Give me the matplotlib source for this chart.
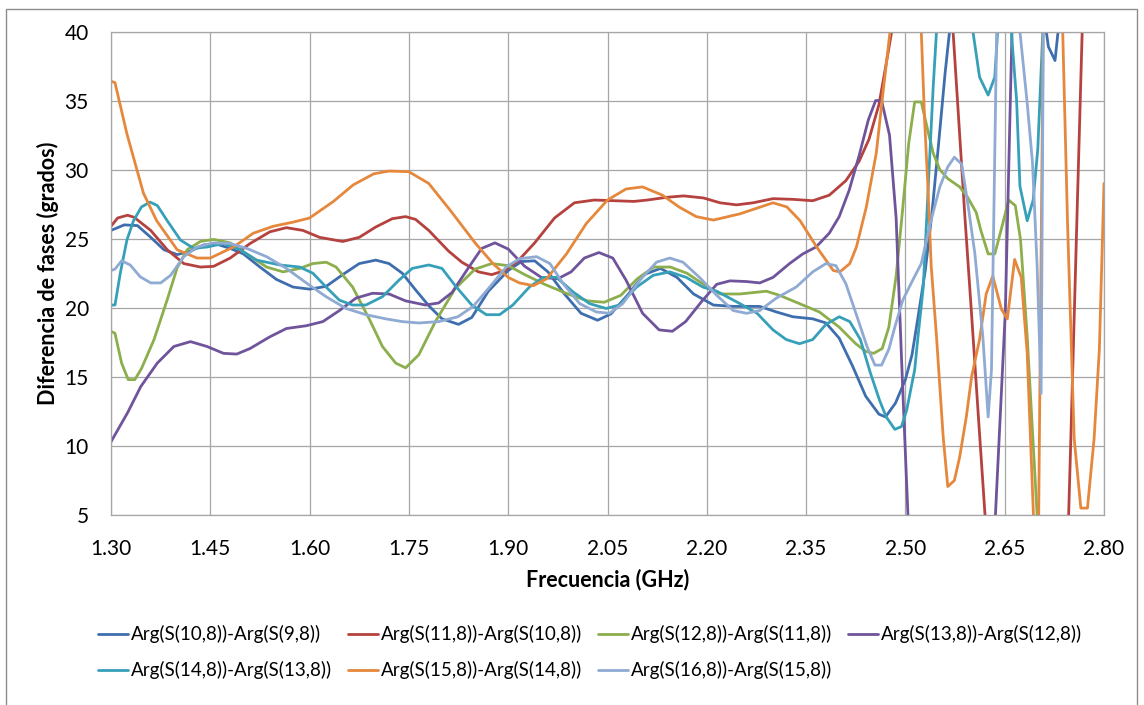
import matplotlib
matplotlib.use("Agg")
import matplotlib.pyplot as plt
from matplotlib.patches import Rectangle

plt.rcParams['font.family'] = ['Lato', 'DejaVu Sans']

LABELS = ["Arg(S(10,8))-Arg(S(9,8))", "Arg(S(11,8))-Arg(S(10,8))", "Arg(S(12,8))-Arg(S(11,8))",
          "Arg(S(13,8))-Arg(S(12,8))", "Arg(S(14,8))-Arg(S(13,8))", "Arg(S(15,8))-Arg(S(14,8))",
          "Arg(S(16,8))-Arg(S(15,8))"]
COLORS = ["#3F6EAE", "#B5423F", "#8CAE4C", "#6F549B", "#37A0B9", "#E6883C", "#8FAAD3"]
XTICKS = [1.30, 1.45, 1.60, 1.75, 1.90, 2.05, 2.20, 2.35, 2.50, 2.65, 2.80]
YTICKS = [5, 10, 15, 20, 25, 30, 35, 40]

# frequency (GHz) / phase difference (deg); values beyond 5..40 are off-chart
f_10_9 = [1.30, 1.32, 1.34, 1.36, 1.38, 1.40, 1.42, 1.44, 1.46, 1.48, 1.50, 1.525, 1.55, 1.575, 1.60,
          1.625, 1.65, 1.675, 1.70, 1.72, 1.74, 1.76, 1.78, 1.80, 1.825, 1.845, 1.87, 1.90, 1.92, 1.94,
          1.96, 1.985, 2.01, 2.035, 2.055, 2.08, 2.105, 2.13, 2.155, 2.18, 2.21, 2.24, 2.28, 2.305, 2.33,
          2.36, 2.38, 2.40, 2.42, 2.44, 2.46, 2.47, 2.485, 2.50, 2.51, 2.52, 2.53, 2.54, 2.55, 2.56, 2.57,
          2.60, 2.70, 2.71, 2.716, 2.726, 2.735, 2.80]
d_10_9 = [25.6, 26.0, 25.95, 25.1, 24.2, 23.85, 24.1, 24.55, 24.6, 24.3, 23.9, 22.95, 22.05, 21.5, 21.35,
          21.55, 22.4, 23.2, 23.45, 23.2, 22.5, 21.3, 20.15, 19.2, 18.8, 19.3, 21.2, 22.7, 23.35, 23.4,
          22.6, 21.0, 19.6, 19.1, 19.55, 20.9, 22.4, 22.85, 22.2, 21.0, 20.2, 20.1, 20.1, 19.7, 19.35,
          19.2, 18.9, 17.8, 15.8, 13.6, 12.3, 12.1, 13.1, 14.8, 16.6, 19.6, 22.7, 26.8, 31.8, 37.0, 41.5,
          46, 46, 41, 38.9, 37.9, 42, 46]

f_11_10 = [1.30, 1.31, 1.325, 1.335, 1.36, 1.385, 1.41, 1.435, 1.455, 1.48, 1.51, 1.54, 1.565, 1.59,
           1.615, 1.65, 1.675, 1.70, 1.725, 1.745, 1.76, 1.78, 1.81, 1.83, 1.855, 1.875, 1.895, 1.915,
           1.94, 1.97, 2.00, 2.03, 2.06, 2.09, 2.11, 2.14, 2.165, 2.195, 2.22, 2.245, 2.27, 2.30, 2.33,
           2.36, 2.385, 2.41, 2.43, 2.445, 2.46, 2.47, 2.48, 2.50, 2.56, 2.57, 2.58, 2.59, 2.60, 2.61,
           2.62, 2.63, 2.74, 2.75, 2.76, 2.77, 2.80]
d_11_10 = [25.9, 26.5, 26.7, 26.55, 25.6, 24.2, 23.2, 22.95, 23.0, 23.6, 24.65, 25.5, 25.8, 25.6,
           25.1, 24.8, 25.1, 25.85, 26.45, 26.6, 26.4, 25.6, 24.1, 23.3, 22.6, 22.4, 22.7, 23.4,
           24.7, 26.5, 27.6, 27.8, 27.75, 27.7, 27.8, 28.0, 28.1, 27.95, 27.6, 27.45, 27.6, 27.9, 27.85,
           27.75, 28.15, 29.2, 30.6, 32.2, 34.7, 37.4, 40.2, 45, 45, 41.5, 34.0, 26.5, 19.5, 12.3,
           5.2, -2, -6, 10.7, 28.0, 45, 46]

f_12_11 = [1.30, 1.306, 1.316, 1.326, 1.336, 1.346, 1.365, 1.385, 1.40, 1.415, 1.435, 1.455, 1.48, 1.505,
           1.535, 1.56, 1.585, 1.605, 1.625, 1.64, 1.665, 1.69, 1.71, 1.73, 1.745, 1.765, 1.79, 1.82,
           1.85, 1.875, 1.90, 1.925, 1.955, 1.99, 2.02, 2.045, 2.07, 2.095, 2.12, 2.145, 2.17, 2.195,
           2.22, 2.25, 2.29, 2.31, 2.34, 2.37, 2.40, 2.425, 2.44, 2.452, 2.465, 2.475, 2.486, 2.496,
           2.505, 2.514, 2.524, 2.534, 2.542, 2.552, 2.564, 2.582, 2.594, 2.607, 2.614, 2.625, 2.635,
           2.646, 2.656, 2.666, 2.674, 2.684, 2.691, 2.699, 2.71, 2.80]
d_12_11 = [18.3, 18.15, 16.0, 14.8, 14.8, 15.6, 17.7, 20.6, 22.9, 24.2, 24.8, 24.95, 24.7, 23.9,
           22.95, 22.6, 22.85, 23.2, 23.3, 22.95, 21.5, 19.2, 17.2, 16.0, 15.65, 16.6, 19.0, 21.4,
           22.8, 23.2, 23.05, 22.4, 21.7, 21.0, 20.5, 20.4, 20.9, 22.1, 22.95, 22.95, 22.5, 21.7,
           21.0, 21.0, 21.2, 20.9, 20.3, 19.7, 18.6, 17.4, 16.85, 16.7, 17.05, 18.6, 22.3, 27.2,
           31.9, 34.9, 34.9, 32.8, 31.2, 30.0, 29.35, 28.75, 28.0, 26.9, 25.6, 23.9, 23.9,
           25.9, 27.8, 27.4, 24.9, 17.9, 11.9, 5.0, -2, -2]

f_13_12 = [1.30, 1.325, 1.345, 1.37, 1.395, 1.42, 1.445, 1.47, 1.49, 1.51, 1.54, 1.565, 1.595, 1.62,
           1.645, 1.67, 1.695, 1.72, 1.745, 1.775, 1.795, 1.815, 1.84, 1.86, 1.88, 1.90, 1.925, 1.95,
           1.975, 1.995, 2.015, 2.037, 2.058, 2.078, 2.103, 2.128, 2.148, 2.168, 2.193, 2.215, 2.235,
           2.26, 2.28, 2.30, 2.325, 2.345, 2.365, 2.385, 2.40, 2.415, 2.43, 2.444, 2.455, 2.464, 2.476,
           2.486, 2.494, 2.502, 2.51, 2.625, 2.636, 2.651, 2.661, 2.67, 2.80]
d_13_12 = [10.3, 12.4, 14.3, 16.0, 17.2, 17.55, 17.2, 16.7, 16.65, 17.05, 17.9, 18.5, 18.7, 19.0,
           19.8, 20.7, 21.05, 21.0, 20.5, 20.2, 20.35, 21.1, 22.9, 24.3, 24.7, 24.25, 23.0, 22.2,
           22.1, 22.6, 23.6, 24.0, 23.6, 22.0, 19.6, 18.4, 18.3, 19.0, 20.5, 21.7, 21.95,
           21.9, 21.8, 22.2, 23.2, 23.9, 24.4, 25.4, 26.6, 28.5, 31.0, 33.6, 35.0, 35.0, 32.5,
           26.5, 16.5, 7.1, -2, -8, 5.0, 19.8, 40.0, 46, 46]

f_14_13 = [1.30, 1.306, 1.314, 1.324, 1.334, 1.346, 1.359, 1.37, 1.385, 1.405, 1.425, 1.445, 1.47, 1.495,
           1.52, 1.555, 1.585, 1.605, 1.625, 1.645, 1.665, 1.685, 1.71, 1.735, 1.755, 1.78, 1.80, 1.82,
           1.845, 1.867, 1.887, 1.907, 1.932, 1.953, 1.973, 1.998, 2.023, 2.048, 2.068, 2.094, 2.119,
           2.144, 2.169, 2.194, 2.215, 2.25, 2.276, 2.30, 2.32, 2.34, 2.36, 2.38, 2.40, 2.416, 2.432,
           2.447, 2.461, 2.471, 2.484, 2.494, 2.502, 2.509, 2.514, 2.519, 2.527, 2.532, 2.537, 2.542,
           2.547, 2.555, 2.595, 2.602, 2.612, 2.625, 2.635, 2.64, 2.65, 2.66, 2.668, 2.673, 2.684,
           2.693, 2.70, 2.708, 2.72, 2.80]
d_14_13 = [20.2, 20.2, 22.5, 24.9, 26.3, 27.3, 27.65, 27.4, 26.3, 24.9, 24.3, 24.4, 24.65, 24.2,
           23.45, 23.1, 22.95, 22.5, 21.5, 20.55, 20.2, 20.2, 20.8, 22.0, 22.85, 23.1, 22.85, 21.6,
           20.2, 19.5, 19.5, 20.2, 21.5, 22.2, 22.2, 21.15, 20.3, 19.95, 20.2, 21.5, 22.35,
           22.6, 22.2, 21.5, 21.2, 20.3, 19.6, 18.4, 17.7, 17.4, 17.7, 18.8, 19.35, 19.0, 17.7,
           15.3, 13.3, 12.1, 11.2, 11.4, 12.6, 14.3, 15.5, 17.9, 21.5, 26.3, 31.2, 36.0,
           40.0, 46, 46, 40.0, 36.7, 35.4, 36.7, 40.5, 46, 40.0, 35.0, 28.8, 26.3,
           27.8, 31.5, 40.5, 46, 46]

f_15_14 = [1.30, 1.306, 1.324, 1.349, 1.369, 1.40, 1.43, 1.45, 1.485, 1.515, 1.545, 1.575, 1.60, 1.636,
           1.666, 1.697, 1.72, 1.75, 1.78, 1.815, 1.85, 1.877, 1.90, 1.917, 1.938, 1.958, 1.988, 2.018,
           2.05, 2.078, 2.103, 2.133, 2.158, 2.184, 2.21, 2.25, 2.30, 2.321, 2.341, 2.366, 2.391, 2.401,
           2.416, 2.426, 2.441, 2.456, 2.466, 2.478, 2.49, 2.515, 2.524, 2.529, 2.534, 2.539, 2.547,
           2.552, 2.557, 2.564, 2.574, 2.582, 2.592, 2.60, 2.612, 2.622, 2.632, 2.645, 2.654, 2.665,
           2.675, 2.684, 2.693, 2.70, 2.71, 2.735, 2.745, 2.755, 2.765, 2.775, 2.785, 2.793, 2.80]
d_15_14 = [36.4, 36.3, 32.6, 28.3, 26.3, 24.2, 23.6, 23.6, 24.4, 25.4, 25.9, 26.2, 26.5, 27.7,
           28.9, 29.7, 29.9, 29.85, 29.0, 26.9, 24.7, 23.2, 22.2, 21.8, 21.6, 22.1, 23.9, 26.1,
           27.8, 28.6, 28.75, 28.15, 27.3, 26.6, 26.35, 26.8, 27.6, 27.3, 26.3, 24.4, 22.7, 22.6,
           23.2, 24.4, 27.3, 31.2, 35.5, 40.5, 46, 46, 40.0, 33.6, 28.75, 23.0, 17.9,
           14.3, 10.7, 7.06, 7.5, 9.2, 12.1, 15.0, 17.7, 21.0, 22.3, 19.9, 19.2, 23.5,
           22.2, 16.7, 5.5, -2, 50, 45, 26.0, 10.5, 5.5, 5.5, 10.5, 17.0, 29.0]

f_16_15 = [1.30, 1.306, 1.316, 1.329, 1.344, 1.36, 1.375, 1.39, 1.41, 1.43, 1.455, 1.48, 1.505, 1.535,
           1.565, 1.595, 1.625, 1.655, 1.685, 1.715, 1.74, 1.765, 1.795, 1.824, 1.847, 1.872, 1.897,
           1.917, 1.943, 1.963, 1.983, 2.008, 2.033, 2.053, 2.073, 2.099, 2.124, 2.144, 2.164, 2.189,
           2.215, 2.24, 2.26, 2.28, 2.305, 2.335, 2.36, 2.38, 2.395, 2.41, 2.427, 2.442, 2.454, 2.464,
           2.475, 2.484, 2.496, 2.51, 2.524, 2.537, 2.552, 2.564, 2.574, 2.585, 2.595, 2.605, 2.617,
           2.625, 2.63, 2.638, 2.645, 2.665, 2.673, 2.684, 2.692, 2.699, 2.705, 2.709, 2.80]
d_16_15 = [22.7, 22.8, 23.4, 23.1, 22.25, 21.8, 21.8, 22.35, 23.7, 24.4, 24.7, 24.65, 24.3, 23.7,
           22.85, 21.8, 20.8, 19.95, 19.5, 19.2, 19.0, 18.9, 19.0, 19.35, 20.1, 21.5, 22.95,
           23.55, 23.7, 23.2, 21.75, 20.3, 19.7, 19.6, 20.3, 22.0, 23.3, 23.6, 23.3, 22.2,
           20.9, 19.8, 19.6, 19.8, 20.7, 21.5, 22.6, 23.2, 23.05, 21.75, 19.35, 17.2, 15.85, 15.85,
           17.0, 18.6, 20.55, 21.9, 23.2, 26.0, 28.75, 30.2, 30.9, 30.4, 27.3, 23.9, 17.9,
           12.1, 15.5, 40.5, 46, 46, 40.0, 34.8, 30.5, 23.0, 13.8, 45, 48]

SERIES = [(f_10_9, d_10_9), (f_11_10, d_11_10), (f_12_11, d_12_11), (f_13_12, d_13_12),
          (f_14_13, d_14_13), (f_15_14, d_15_14), (f_16_15, d_16_15)]

W, H = 1144, 705
fig = plt.figure(figsize=(W / 100, H / 100), dpi=100)
ax = fig.add_axes([111 / W, 1 - 515 / H, 993 / W, 483.5 / H])

lines = []
for (f, d), c, lab in zip(SERIES, COLORS, LABELS):
    ln, = ax.plot(f, d, color=c, lw=2.0, label=lab, solid_joinstyle="round", solid_capstyle="round")
    lines.append(ln)

ax.set_xlim(1.30, 2.80)
ax.set_ylim(5, 40)
ax.set_xticks(XTICKS)
ax.set_xticklabels([f"{t:.2f}" for t in XTICKS])
ax.set_yticks(YTICKS)
ax.tick_params(length=0, labelsize=15, colors="#000000")
ax.tick_params(axis="y", pad=16)
ax.tick_params(axis="x", pad=17)
ax.grid(True, color="#a6a6a6", lw=0.9)
ax.set_axisbelow(True)
for s in ax.spines.values():
    s.set_color("#a6a6a6")
    s.set_linewidth(0.9)

ax.set_xlabel("Frecuencia (GHz)", fontsize=15.5, fontweight="bold")
ax.xaxis.set_label_coords(0.5, -0.11)
ax.set_ylabel("Diferencia de fases (grados)", fontsize=15.5, fontweight="bold")
ax.yaxis.set_label_coords(-0.052, 0.5)

# legend laid out row by row (matplotlib fills columns first)
order = [0, 4, 1, 5, 2, 6, 3]
fig.legend([lines[i] for i in order], [LABELS[i] for i in order], ncol=4, frameon=False,
           loc="upper left", bbox_to_anchor=(89 / W, 1 - 616 / H), borderpad=0, fontsize=13.5,
           handlelength=1.6, handletextpad=0.15, columnspacing=0.85, labelspacing=0.95)

# chart-area border
fig.add_artist(Rectangle((6 / W, -0.02), 1131 / W, 1.02 - 8.5 / H, transform=fig.transFigure,
                         fill=False, edgecolor="#8c8c8c", lw=1.0))

fig.savefig("out.png", dpi=100)
